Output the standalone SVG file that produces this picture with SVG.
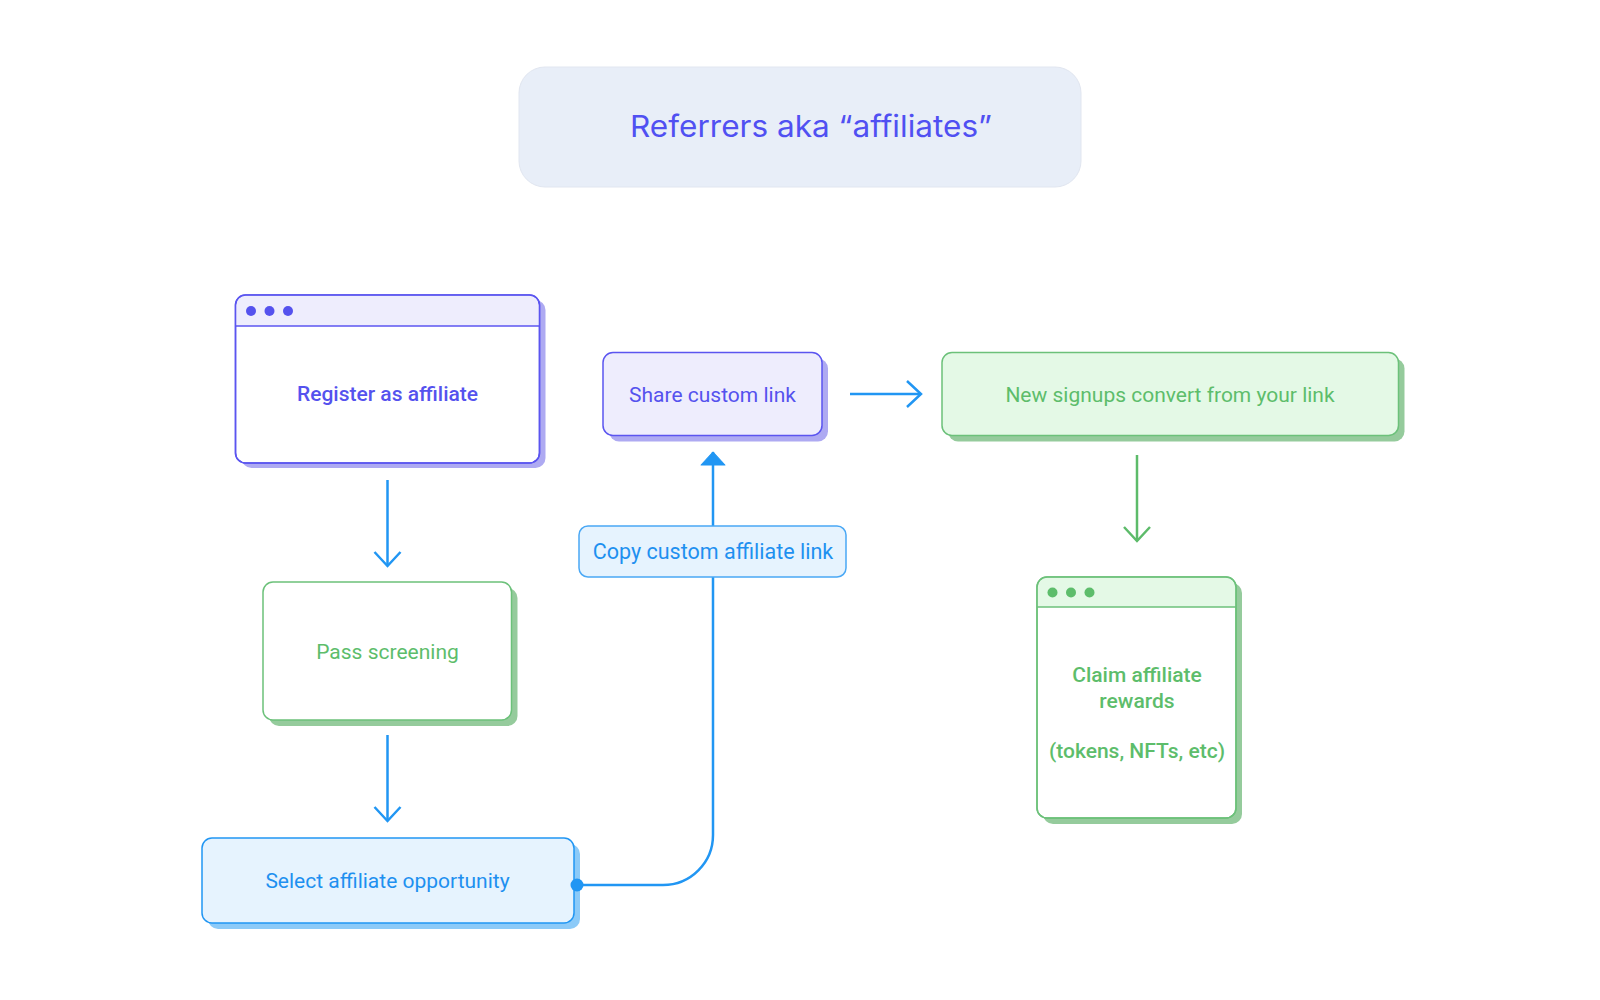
<svg xmlns="http://www.w3.org/2000/svg" width="1600" height="1000" viewBox="0 0 1600 1000">
<style>
  .t { font-family: Roboto, "Liberation Sans", sans-serif; text-anchor: middle; }
  .purple-box { fill: #eeedfd; stroke: #5b55f0; stroke-width: 1.5; }
  .purple-win { fill: #ffffff; stroke: #5b55f0; stroke-width: 1.5; }
  .purple-sh { fill: #aeaaf2; }
  .purple-t { fill: #5552ee; }
  .green-box { fill: #e4f9e6; stroke: #6cc17a; stroke-width: 1.5; }
  .green-win { fill: #ffffff; stroke: #6cc17a; stroke-width: 1.5; }
  .green-sh { fill: #95cb9c; }
  .green-t { fill: #5dbd6b; }
  .blue-box { fill: #e6f3fe; stroke: #2196f3; stroke-width: 1.5; }
  .blue-sh { fill: #8ccaf8; }
  .blue-t { fill: #1e90f0; }
  .conn { fill: none; stroke-width: 2.5; }
  .c-blue { stroke: #2196f3; }
  .c-green { stroke: #5dbb6a; }
</style>
<defs>
  <marker id="chev-blue" markerUnits="userSpaceOnUse" markerWidth="30" markerHeight="30" viewBox="-16 -15 18 30" refX="0" refY="0" orient="auto">
    <path d="M-14,-13 L0,0 L-14,13" fill="none" stroke="#2196f3" stroke-width="2.5"/>
  </marker>
  <marker id="chev-green" markerUnits="userSpaceOnUse" markerWidth="30" markerHeight="30" viewBox="-16 -15 18 30" refX="0" refY="0" orient="auto">
    <path d="M-14,-13 L0,0 L-14,13" fill="none" stroke="#5dbb6a" stroke-width="2.5"/>
  </marker>
  <marker id="tri-blue" markerUnits="userSpaceOnUse" markerWidth="24" markerHeight="26" viewBox="-13 -12 14 24" refX="0" refY="0" orient="auto">
    <path d="M-12,-11 L0,0 L-12,11 Z" fill="#2196f3" stroke="#2196f3" stroke-width="1" stroke-linejoin="round"/>
  </marker>
</defs>
<rect width="1600" height="1000" fill="#ffffff"/>

<g id="title">
  <rect x="519" y="67" width="562" height="120" rx="26" fill="#e8eef8" stroke="#e1e6f0" stroke-width="1"/>
  <text x="811" y="137" font-family="Inter, 'Liberation Sans', sans-serif" font-size="30" fill="#5050f2" text-anchor="middle" textLength="362" lengthAdjust="spacingAndGlyphs">Referrers aka “affiliates”</text>
</g>

<g id="register">
  <rect class="purple-sh" x="241.5" y="300" width="304" height="168" rx="10"/>
  <rect class="purple-win" x="235.5" y="295" width="304" height="168" rx="10"/>
  <path d="M236.25 326 V305 A9.25 9.25 0 0 1 245.5 295.75 H529.5 A9.25 9.25 0 0 1 538.75 305 V326 Z" fill="#eeedfd"/>
  <rect x="235.5" y="295" width="304" height="168" rx="10" fill="none" stroke="#5b55f0" stroke-width="1.5"/>
  <line x1="235.5" y1="326" x2="539.5" y2="326" stroke="#5b55f0" stroke-width="1.5"/>
  <circle cx="251" cy="311" r="5" fill="#5552ee"/>
  <circle cx="269.5" cy="311" r="5" fill="#5552ee"/>
  <circle cx="288" cy="311" r="5" fill="#5552ee"/>
  <text class="t purple-t" x="387.5" y="401" font-size="21" font-weight="500">Register as affiliate</text>
</g>

<g id="pass">
  <rect class="green-sh" x="269" y="588" width="248.5" height="138" rx="10"/>
  <rect class="green-win" x="263" y="582" width="248.5" height="138" rx="10"/>
  <text class="t green-t" x="387.5" y="659" font-size="21">Pass screening</text>
</g>

<g id="select">
  <rect class="blue-sh" x="208" y="844" width="372" height="85" rx="10"/>
  <rect class="blue-box" x="202" y="838" width="372" height="85" rx="10"/>
  <text class="t blue-t" x="387.5" y="888" font-size="21">Select affiliate opportunity</text>
</g>

<g id="share">
  <rect class="purple-sh" x="609" y="358.5" width="219" height="83" rx="10"/>
  <rect class="purple-box" x="603" y="352.5" width="219" height="83" rx="10"/>
  <text class="t purple-t" x="712.5" y="401.5" font-size="21">Share custom link</text>
</g>

<g id="signups">
  <rect class="green-sh" x="948" y="358.5" width="456.5" height="83" rx="10"/>
  <rect class="green-box" x="942" y="352.5" width="456.5" height="83" rx="10"/>
  <text class="t green-t" x="1170" y="401.5" font-size="21">New signups convert from your link</text>
</g>

<g id="claim">
  <rect class="green-sh" x="1043" y="583" width="199" height="241" rx="10"/>
  <rect class="green-win" x="1037" y="577" width="199" height="241" rx="10"/>
  <path d="M1037.75 607 V587 A9.25 9.25 0 0 1 1047 577.75 H1226 A9.25 9.25 0 0 1 1235.25 587 V607 Z" fill="#e4f9e6"/>
  <rect x="1037" y="577" width="199" height="241" rx="10" fill="none" stroke="#6cc17a" stroke-width="1.5"/>
  <line x1="1037" y1="607" x2="1236" y2="607" stroke="#6cc17a" stroke-width="1.5"/>
  <circle cx="1052.5" cy="592.5" r="5" fill="#5dbd6b"/>
  <circle cx="1071" cy="592.5" r="5" fill="#5dbd6b"/>
  <circle cx="1089.5" cy="592.5" r="5" fill="#5dbd6b"/>
  <text class="t green-t" x="1137" y="682" font-size="21" font-weight="500">Claim affiliate</text>
  <text class="t green-t" x="1137" y="707.5" font-size="21" font-weight="500">rewards</text>
  <text class="t green-t" x="1137" y="757.5" font-size="21" font-weight="500">(tokens, NFTs, etc)</text>
</g>

<g id="connectors">
  <line class="conn c-blue" x1="387.5" y1="480" x2="387.5" y2="566" marker-end="url(#chev-blue)"/>
  <line class="conn c-blue" x1="387.5" y1="735" x2="387.5" y2="821" marker-end="url(#chev-blue)"/>
  <path class="conn c-blue" d="M576 885 H663 A50 50 0 0 0 713 835 V577"/>
  <line class="conn c-blue" x1="713" y1="526" x2="713" y2="452" marker-end="url(#tri-blue)"/>
  <circle cx="577" cy="885" r="6.5" fill="#2196f3"/>
  <line class="conn c-blue" x1="850" y1="394" x2="921" y2="394" marker-end="url(#chev-blue)"/>
  <line class="conn c-green" x1="1137" y1="455" x2="1137" y2="541" marker-end="url(#chev-green)"/>
  <g id="label-copy">
    <rect x="579" y="526" width="267" height="51" rx="9" fill="#e6f3fe" stroke="#4aa8f5" stroke-width="1.5"/>
    <text class="t blue-t" x="713" y="559" font-size="21.5">Copy custom affiliate link</text>
  </g>
</g>
</svg>
